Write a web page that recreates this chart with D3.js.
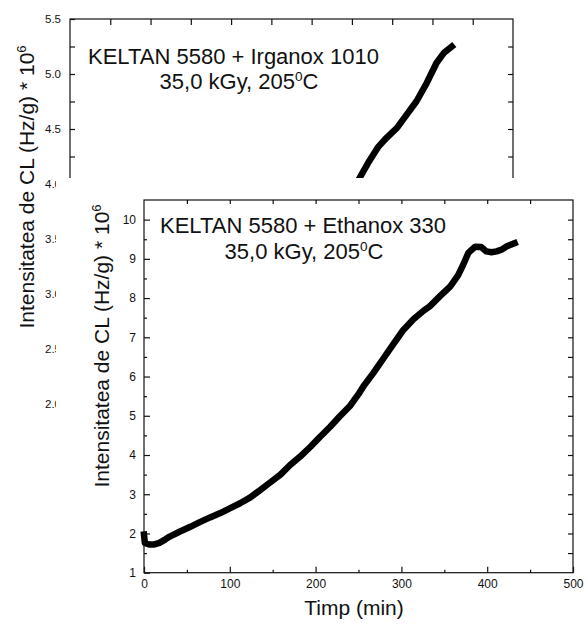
<!DOCTYPE html>
<html>
<head>
<meta charset="utf-8">
<script src="https://cdn.jsdelivr.net/npm/d3@7"></script>
<style>
  html, body { margin: 0; padding: 0; background: #fff; }
  svg { display: block; font-family: "Liberation Sans", Arial, sans-serif; }
  .tick text { fill: #111; }
</style>
</head>
<body>
<svg id="chart" width="588" height="626"></svg>
<script>
// Chemiluminescence intensity vs. time, two EPDM formulations
// Back panel: KELTAN 5580 + Irganox 1010 (late part of the run)
const irgTime  = [352, 360, 370, 383, 393, 406, 418, 430, 443, 455, 464, 474];
const irgValue = [3.96, 4.06, 4.19, 4.34, 4.42, 4.51, 4.63, 4.75, 4.92, 5.10, 5.19, 5.25];

// Front panel: KELTAN 5580 + Ethanox 330
const ethTime  = [0, 1, 6, 12, 18, 25, 30, 42, 54, 65, 77, 89, 100, 112, 124, 135, 147, 159,
                  170, 182, 194, 205, 217, 228, 240, 250, 256, 267, 279, 291, 302, 314, 326,
                  333, 345, 357, 366, 372, 378, 386, 393, 399, 405, 411, 417, 423, 432];
const ethValue = [1.97, 1.76, 1.72, 1.72, 1.76, 1.85, 1.92, 2.05, 2.17, 2.29, 2.41, 2.52, 2.64,
                  2.77, 2.92, 3.10, 3.30, 3.50, 3.74, 3.96, 4.21, 4.46, 4.72, 4.98, 5.25, 5.55,
                  5.76, 6.08, 6.46, 6.84, 7.18, 7.46, 7.68, 7.79, 8.05, 8.30, 8.58, 8.85, 9.15,
                  9.31, 9.30, 9.19, 9.17, 9.19, 9.24, 9.32, 9.40];

// Tick values
const ethXMajor = [0, 100, 200, 300, 400, 500];
const ethXMinor = [50, 150, 250, 350, 450];
const ethYMajor = [1, 2, 3, 4, 5, 6, 7, 8, 9, 10];
const irgYMajor = [2.0, 2.5, 3.0, 3.5, 4.0, 4.5, 5.0, 5.5];

const svg = d3.select("#chart");
const ink = "#111";

function superscriptText(g, x, y, parts, size, anchor, rotate) {
  const t = g.append("text")
    .attr("x", x).attr("y", y)
    .attr("font-size", size)
    .attr("fill", ink)
    .attr("text-anchor", anchor);
  if (rotate) t.attr("transform", `rotate(-90, ${x}, ${y})`);
  parts.forEach(p => {
    const s = t.append("tspan").text(p.t);
    if (p.sup) s.attr("font-size", size * 0.62).attr("dy", -size * 0.36);
    else if (p.after) s.attr("dy", size * 0.36);
  });
  return t;
}

function styleAxis(g) {
  g.select(".domain").remove();
  g.selectAll(".tick line").attr("stroke", ink).attr("stroke-width", 1.2);
}

function curve(g, xs, ys, tv, vv) {
  const pts = tv.map((t, i) => [xs(t), ys(vv[i])]);
  g.append("path")
    .attr("d", d3.line().curve(d3.curveLinear)(pts))
    .attr("fill", "none")
    .attr("stroke", "#000")
    .attr("stroke-width", 6.5)
    .attr("stroke-linejoin", "round")
    .attr("stroke-linecap", "square");
}

// ---------- back panel (Irganox 1010) ----------
const back = svg.append("g");
const xb = d3.scaleLinear().domain([0, 550]).range([70, 513]);
const yb = d3.scaleLinear().domain([2.0, 5.5]).range([404, 19]);

curve(back, xb, yb, irgTime, irgValue);

back.append("rect")
  .attr("x", xb.range()[0]).attr("y", yb.range()[1])
  .attr("width", xb.range()[1] - xb.range()[0])
  .attr("height", yb.range()[0] - yb.range()[1])
  .attr("fill", "none").attr("stroke", ink).attr("stroke-width", 1.2);

back.append("g").attr("transform", `translate(0,${yb(5.5)})`)
  .call(d3.axisTop(xb).tickValues(d3.range(50, 550, 50)).tickSize(-6).tickFormat(""))
  .call(styleAxis);
back.append("g").attr("transform", `translate(${xb(0)},0)`)
  .call(d3.axisLeft(yb).tickValues(d3.range(2.25, 5.5, 0.5)).tickSize(-5).tickFormat(""))
  .call(styleAxis);
back.append("g").attr("transform", `translate(${xb(0)},0)`)
  .call(d3.axisLeft(yb).tickValues(irgYMajor).tickSize(-5).tickPadding(9).tickFormat(d3.format(".1f")))
  .call(styleAxis)
  .call(g => g.selectAll("text").attr("font-size", 11.5).attr("fill", ink));
back.append("g").attr("transform", `translate(${xb(550)},0)`)
  .call(d3.axisRight(yb).tickValues(d3.range(2.25, 5.5, 0.25)).tickSize(-5).tickFormat(""))
  .call(styleAxis);

superscriptText(back, 88, 64, [{t: "KELTAN 5580 + Irganox 1010"}], 22, "start");
superscriptText(back, 239, 89, [{t: "35,0 kGy, 205"}, {t: "0", sup: true}, {t: "C", after: true}], 22, "middle");
superscriptText(back, 34, 187, [{t: "Intensitatea de CL (Hz/g) * 10"}, {t: "6", sup: true}], 21, "middle", true);

// ---------- front panel (Ethanox 330) ----------
const front = svg.append("g");
front.append("rect")
  .attr("x", 56).attr("y", 178).attr("width", 588 - 56).attr("height", 626 - 178)
  .attr("fill", "#fff");

const x = d3.scaleLinear().domain([0, 500]).range([144, 573]);
const y = d3.scaleLinear().domain([1, 10.5]).range([572.7, 200]);

curve(front, x, y, ethTime, ethValue);

front.append("rect")
  .attr("x", x(0)).attr("y", y(10.5))
  .attr("width", x(500) - x(0)).attr("height", y(1) - y(10.5))
  .attr("fill", "none").attr("stroke", ink).attr("stroke-width", 1.2);

front.append("g").attr("transform", `translate(0,${y(1)})`)
  .call(d3.axisBottom(x).tickValues(ethXMinor).tickSize(-3).tickFormat(""))
  .call(styleAxis);
front.append("g").attr("transform", `translate(0,${y(1)})`)
  .call(d3.axisBottom(x).tickValues(ethXMajor).tickSize(-6).tickPadding(7))
  .call(styleAxis)
  .call(g => g.selectAll("text").attr("font-size", 12).attr("fill", ink));
front.append("g").attr("transform", `translate(0,${y(10.5)})`)
  .call(d3.axisTop(x).tickValues(d3.range(50, 500, 50)).tickSize(-4).tickFormat(""))
  .call(styleAxis);
front.append("g").attr("transform", `translate(${x(0)},0)`)
  .call(d3.axisLeft(y).tickValues(d3.range(1.5, 10.5, 1)).tickSize(-3).tickFormat(""))
  .call(styleAxis);
front.append("g").attr("transform", `translate(${x(0)},0)`)
  .call(d3.axisLeft(y).tickValues(ethYMajor).tickSize(-6).tickPadding(8))
  .call(styleAxis)
  .call(g => g.selectAll("text").attr("font-size", 12).attr("fill", ink));
front.append("g").attr("transform", `translate(${x(500)},0)`)
  .call(d3.axisRight(y).tickValues(d3.range(1.5, 10.5, 0.5)).tickSize(-5).tickFormat(""))
  .call(styleAxis);

superscriptText(front, 160, 233, [{t: "KELTAN 5580 + Ethanox 330"}], 22, "start");
superscriptText(front, 304, 259, [{t: "35,0 kGy, 205"}, {t: "0", sup: true}, {t: "C", after: true}], 22, "middle");
superscriptText(front, 109, 346, [{t: "Intensitatea de CL (Hz/g) * 10"}, {t: "6", sup: true}], 21, "middle", true);
superscriptText(front, 354, 615, [{t: "Timp (min)"}], 21, "middle");
</script>
</body>
</html>
